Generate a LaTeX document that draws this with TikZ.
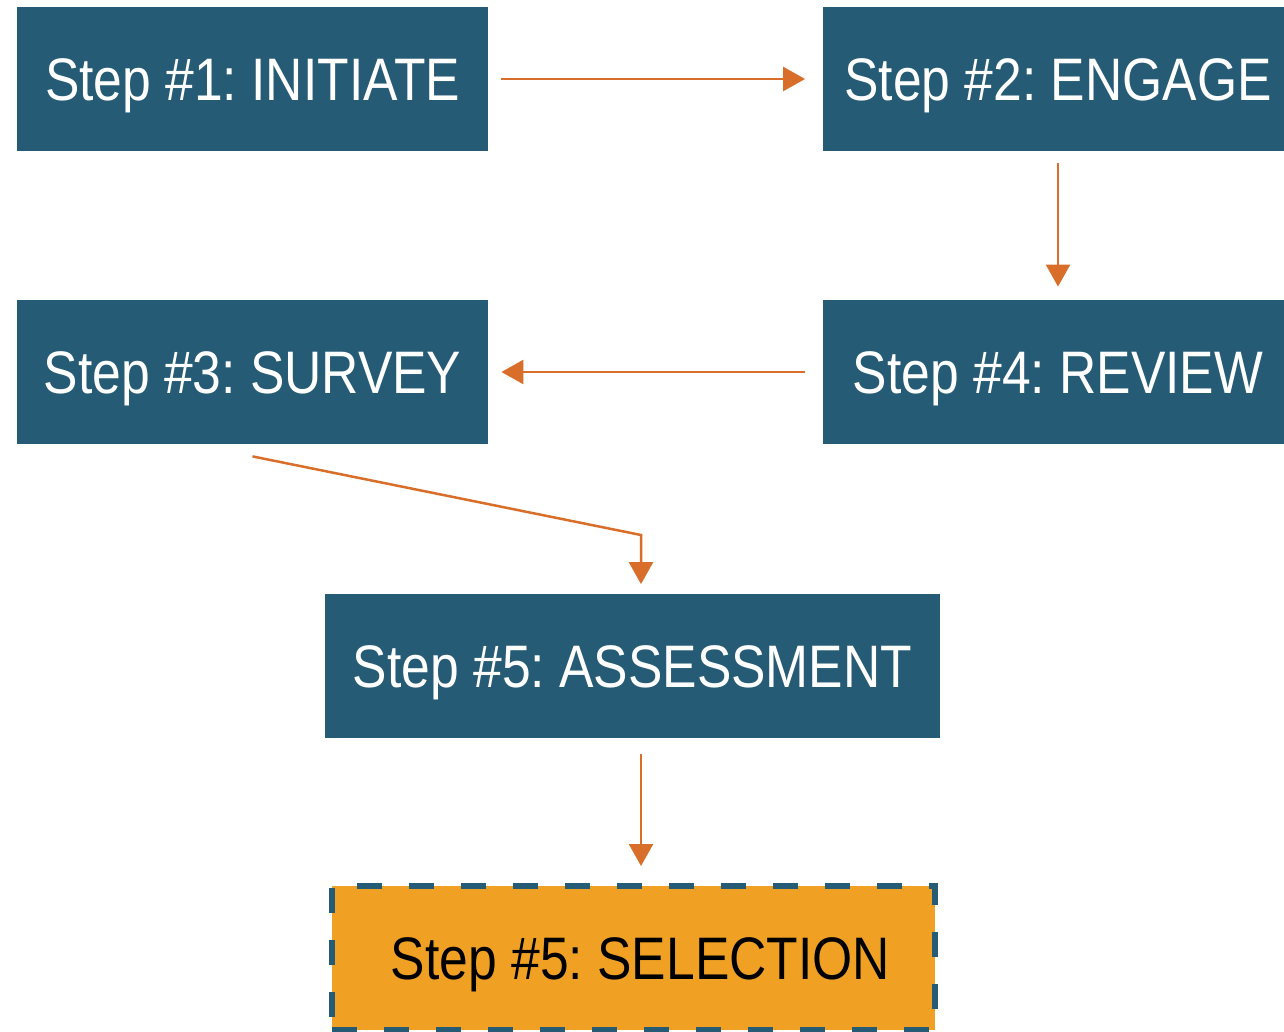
\documentclass[tikz,border=0pt]{standalone}
\usepackage{fontspec}
\setmainfont{Liberation Sans}[FakeStretch=0.86]
\usetikzlibrary{arrows.meta}

\definecolor{stepblue}{RGB}{37,91,117}
\definecolor{flowline}{RGB}{216,110,42}
\definecolor{pickfill}{RGB}{240,161,36}

\tikzset{
  stepbox/.style={fill=stepblue,text=white,font=\fontsize{30}{36}\selectfont,
    minimum width=235.5pt,minimum height=72pt,inner sep=0pt,
    text height=21.5pt,text depth=0pt},
  pickbox/.style={fill=pickfill,draw=stepblue,line width=3pt,
    dash pattern=on 12.5pt off 13.5pt,text=black,font=\fontsize{30}{36}\selectfont,
    minimum width=301.5pt,minimum height=72pt,inner sep=0pt,
    text height=21.5pt,text depth=0pt},
  flow/.style={draw=flowline,line width=1.25pt,-{Triangle[length=11pt,width=12pt]}}
}

\begin{document}
\frenchspacing
\begin{tikzpicture}[x=0.5pt,y=0.5pt,yscale=-1,xscale=1]
\useasboundingbox (0,0) rectangle (1284,1032);

% Step boxes
\node [stepbox] (initiate) at (252.5,79) {Step \#1: INITIATE};
\node [stepbox] (engage) at (1058,79) {Step \#2: ENGAGE};
\node [stepbox] (survey) at (252.5,372) {Step \#3: SURVEY};
\node [stepbox] (review) at (1058,372) {Step \#4: REVIEW};
\node [stepbox,minimum width=307.5pt] (assess) at (632.5,665.5) {Step \#5: ASSESSMENT};
\node [pickbox] (select) at (633.5,958) {\hspace{7pt}Step \#5: SELECTION};

% Connectors
\coordinate (leave) at ([yshift=6pt]survey.south);
\coordinate (bend) at (641,535);
\draw [flow,shorten <=6.5pt,shorten >=8.5pt] (initiate.east) -- (engage.west);
\draw [flow,shorten <=6pt,shorten >=6.5pt] (engage.south) -- (review.north);
\draw [flow,shorten <=8.5pt,shorten >=6.5pt] (review.west) -- (survey.east);
\draw [flow,shorten >=4.5pt] (leave) -- (bend) -- (bend |- assess.north);
\draw [flow,shorten <=8pt,shorten >=8.5pt] (bend |- assess.south) -- (bend |- select.north);

\end{tikzpicture}
\end{document}
